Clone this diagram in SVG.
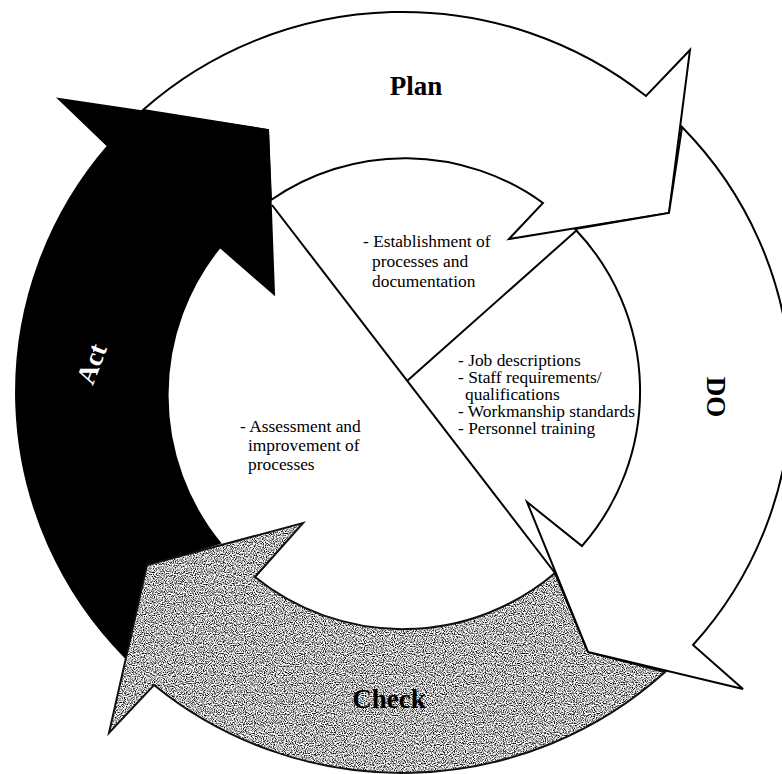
<svg xmlns="http://www.w3.org/2000/svg" width="782" height="774" viewBox="0 0 782 774">
  <style>
    .band { stroke: #000; stroke-width: 2; stroke-linejoin: miter; }
    .white { fill: #fff; }
    .black { fill: #000; }
    .outline { fill: none; stroke: #111; stroke-width: 2; }
    .title { font-family: "Liberation Serif", "Times New Roman", serif; font-weight: bold; font-size: 27px; }
    .body { font-family: "Liberation Serif", "Times New Roman", serif; font-size: 17.4px; fill: #000; }
    .divider { stroke: #000; stroke-width: 2; fill: none; }
  </style>
  <defs>
    <!-- speckled grey fill of the Check arrow -->
    <filter id="grain" x="0%" y="0%" width="100%" height="100%" color-interpolation-filters="sRGB">
      <feTurbulence type="fractalNoise" baseFrequency="0.9" numOctaves="1" seed="7" result="noise"/>
      <feColorMatrix in="noise" type="matrix" values="3.2 0 0 0 -0.9  3.2 0 0 0 -0.9  3.2 0 0 0 -0.9  0 0 0 0 1" result="grey"/>
      <feComposite in="grey" in2="SourceGraphic" operator="in"/>
    </filter>
    <path id="check-shape" d="M 665,672 A 388 381 0 0 1 154,685 L 109,733 L 147,565 L 303,523 L 255,577 A 235 235 0 0 0 555,573 L 588,652 Z"/>
  </defs>

  <rect width="782" height="774" fill="#fff"/>

  <!-- Plan: white arrow across the top -->
  <g id="plan">
    <path class="band white" d="M 143,110 A 388 381 0 0 1 646,96 L 690,50 L 669,213 L 509,239 L 543,203 A 235 235 0 0 0 271,200 L 268,130 Z"/>
    <text class="title" x="416" y="95" text-anchor="middle">Plan</text>
  </g>

  <!-- Act: black arrow up the left side -->
  <g id="act">
    <path class="band black" d="M 125,657 A 388 381 0 0 1 108,146 L 59,99 L 268,130 L 274,294 L 220,247 A 235 235 0 0 0 220,543 L 147,565 Z"/>
    <text class="title" fill="#fff" transform="translate(100,367) rotate(-69)" text-anchor="middle">Act</text>
  </g>

  <!-- Check: grey arrow along the bottom -->
  <g id="check">
    <use href="#check-shape" fill="#999" filter="url(#grain)"/>
    <use href="#check-shape" class="outline"/>
    <text class="title" x="389" y="708" text-anchor="middle">Check</text>
  </g>

  <!-- Do: white arrow down the right side -->
  <g id="do">
    <path class="band white" d="M 682,127 A 388 381 0 0 1 693,645 L 743,689 L 588,652 L 527,502 L 582,546 A 235 235 0 0 0 575,229 L 669,213 Z"/>
    <text class="title" transform="translate(707,397) rotate(90)" text-anchor="middle">DO</text>
  </g>

  <!-- inner dividing lines -->
  <g id="connectors">
    <line class="divider" x1="272" y1="205" x2="555" y2="573"/>
    <line class="divider" x1="577" y1="230" x2="407" y2="381"/>
  </g>

  <!-- notes inside the cycle -->
  <g id="note-plan">
    <text class="body"><tspan x="363" y="247">- Establishment of</tspan><tspan x="372" y="267">processes and</tspan><tspan x="372" y="287">documentation</tspan></text>
  </g>
  <g id="note-do">
    <text class="body"><tspan x="458" y="366">- Job descriptions</tspan><tspan x="458" y="383">- Staff requirements/</tspan><tspan x="465" y="400">qualifications</tspan><tspan x="458" y="417">- Workmanship standards</tspan><tspan x="458" y="434">- Personnel training</tspan></text>
  </g>
  <g id="note-act">
    <text class="body"><tspan x="240" y="432">- Assessment and</tspan><tspan x="248" y="451">improvement of</tspan><tspan x="248" y="470">processes</tspan></text>
  </g>
</svg>
